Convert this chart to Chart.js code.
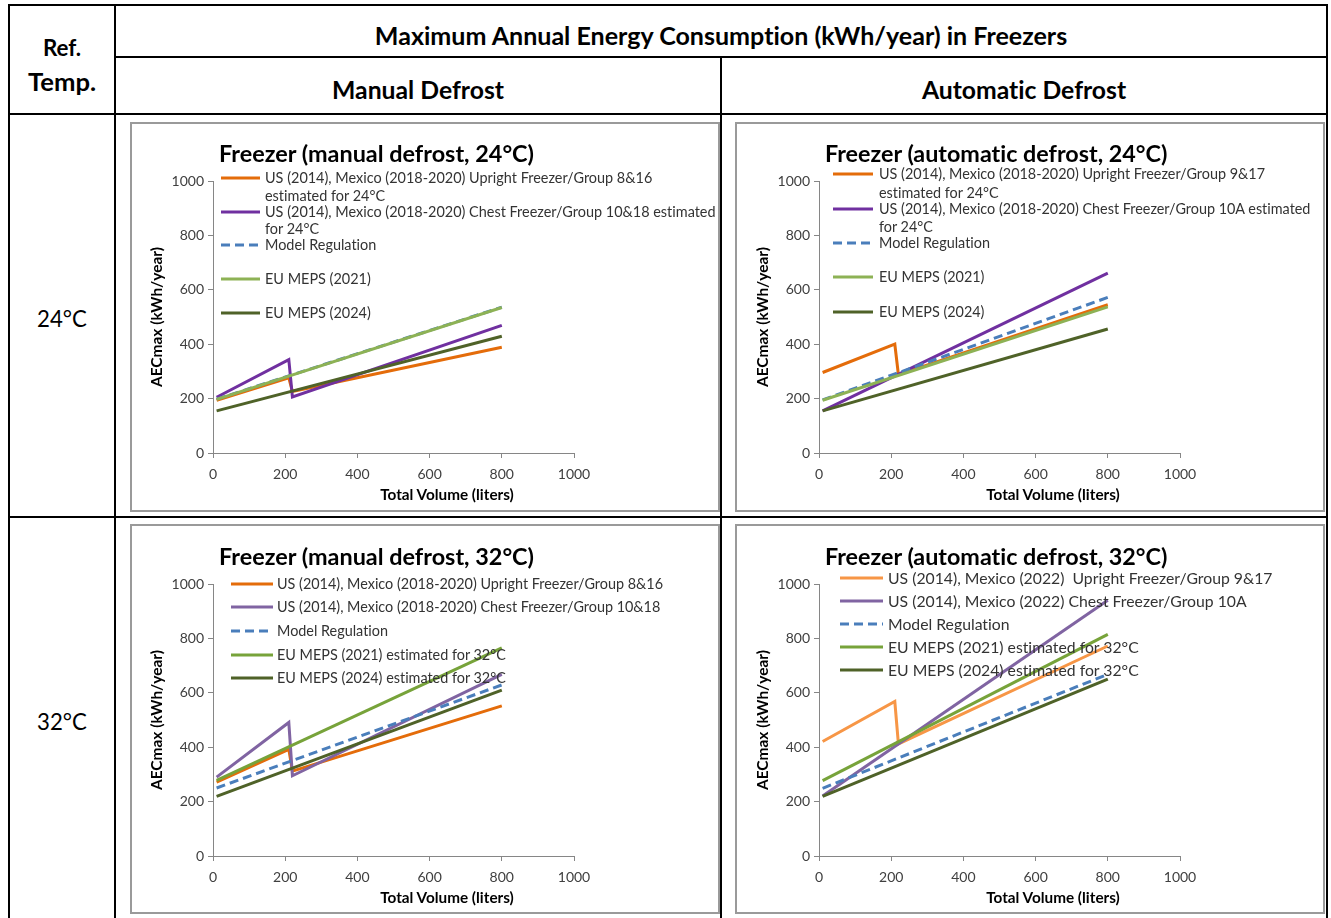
<!DOCTYPE html>
<html><head><meta charset="utf-8">
<script src="https://cdn.jsdelivr.net/npm/chart.js@4.4.1/dist/chart.umd.min.js"></script>
<style>
html,body{margin:0;padding:0;background:#fff;}
#page{position:relative;width:1331px;height:918px;overflow:hidden;font-family:Lato,'Open Sans',sans-serif;color:#000;font-variant-ligatures:none;}
.ln{position:absolute;background:#000;}
.box{position:absolute;border:2px solid #9a9a9a;box-sizing:border-box;pointer-events:none;}
.t{position:absolute;white-space:pre;line-height:1;}
canvas{position:absolute;}
</style></head><body><div id="page"></div>
<script>
// ---------------- DATA ----------------
const volumesStep = [10, 210, 220, 800];
const volumesLine = [10, 800];
const xTickValues = [0, 200, 400, 600, 800, 1000];
const yTickValues = [0, 200, 400, 600, 800, 1000];

const md24Upright = [194, 276, 226, 389];
const md24Chest   = [205, 343, 206, 469];
const md24Model   = [198, 536];
const md24Eu2021  = [197, 535];
const md24Eu2024  = [155, 429];

const ad24Upright = [296, 400, 288, 545];
const ad24Chest   = [155, 661];
const ad24Model   = [195, 572];
const ad24Eu2021  = [194, 537];
const ad24Eu2024  = [155, 456];

const md32Upright = [272, 392, 312, 552];
const md32Chest   = [290, 491, 295, 668];
const md32Model   = [250, 629];
const md32Eu2021  = [278, 765];
const md32Eu2024  = [219, 610];

const ad32Upright = [421, 568, 412, 772];
const ad32Chest   = [221, 940];
const ad32Model   = [249, 668];
const ad32Eu2021  = [277, 815];
const ad32Eu2024  = [219, 650];

const md24Labels = [
  ["US (2014), Mexico (2018-2020) Upright Freezer/Group 8&16", "estimated for 24°C"],
  ["US (2014), Mexico (2018-2020) Chest Freezer/Group 10&18 estimated", "for 24°C"],
  ["Model Regulation"], ["EU MEPS (2021)"], ["EU MEPS (2024)"]];
const ad24Labels = [
  ["US (2014), Mexico (2018-2020) Upright Freezer/Group 9&17", "estimated for 24°C"],
  ["US (2014), Mexico (2018-2020) Chest Freezer/Group 10A estimated", "for 24°C"],
  ["Model Regulation"], ["EU MEPS (2021)"], ["EU MEPS (2024)"]];
const md32Labels = [
  ["US (2014), Mexico (2018-2020) Upright Freezer/Group 8&16"],
  ["US (2014), Mexico (2018-2020) Chest Freezer/Group 10&18"],
  ["Model Regulation"], ["EU MEPS (2021) estimated for 32°C"], ["EU MEPS (2024) estimated for 32°C"]];
const ad32Labels = [
  ["US (2014), Mexico (2022)  Upright Freezer/Group 9&17"],
  ["US (2014), Mexico (2022) Chest Freezer/Group 10A"],
  ["Model Regulation"], ["EU MEPS (2021) estimated for 32°C"], ["EU MEPS (2024) estimated for 32°C"]];

const chartTitles = ["Freezer (manual defrost, 24°C)", "Freezer (automatic defrost, 24°C)",
                     "Freezer (manual defrost, 32°C)", "Freezer (automatic defrost, 32°C)"];
const xAxisTitle = "Total Volume (liters)";
const yAxisTitle = "AECmax (kWh/year)";

// ---------------- LAYOUT ----------------
const page = document.getElementById('page');
function line(x, y, w, h) { const d = document.createElement('div'); d.className = 'ln';
  Object.assign(d.style, {left: x + 'px', top: y + 'px', width: w + 'px', height: h + 'px'}); page.appendChild(d); }
function text(str, x, y, w, opts) {
  opts = opts || {};
  const s = document.createElement('span'); s.className = 't'; s.textContent = str;
  s.style.fontWeight = opts.bold ? '700' : '400';
  if (opts.color) s.style.color = opts.color;
  page.appendChild(s);
  s.style.fontSize = '20px';
  const m = s.offsetWidth;
  const fs = opts.size ? opts.size : 20 * w / m;
  s.style.fontSize = fs + 'px';
  s.style.left = x + 'px'; s.style.top = y + 'px';
  if (opts.rot) s.style.transform = 'translate(-50%,-50%) rotate(-90deg)';
  else if (opts.left) s.style.transform = 'translate(0,-50%)';
  else s.style.transform = 'translate(-50%,-50%)';
  return fs;
}

// table grid
line(8, 4, 1320, 2);
line(115, 56, 1213, 2);
line(8, 113, 1320, 2);
line(8, 516, 1320, 2);
line(8, 4, 2, 914);
line(114, 4, 2, 914);
line(720, 56, 2, 862);
line(1326, 4, 2, 914);

text("Ref.", 62, 48, 38, {bold: true});
text("Temp.", 62, 82, 68, {bold: true});
text("Maximum Annual Energy Consumption (kWh/year) in Freezers", 721, 36, 693, {bold: true});
text("Manual Defrost", 418, 90, 172, {bold: true});
text("Automatic Defrost", 1024, 90, 204, {bold: true});
text("24°C", 62, 319, 50, {});
text("32°C", 62, 722, 50, {});

const charts = [
  { box: [130, 122], plot: [213, 181, 574, 453], series: [md24Upright, md24Chest, md24Model, md24Eu2021, md24Eu2024],
    xs: [volumesStep, volumesStep, volumesLine, volumesLine, volumesLine],
    colors: ['#E46C0A', '#7030A0', '#4A7EBB', '#8DB255', '#4F6228'],
    labels: md24Labels, title: chartTitles[0], titlePos: [219, 154, 315],
    legend: { x1: 221, x2: 260, tx: 265, rows: [[178, 196], [212, 229], [245], [279], [313]], w: 387 },
    xt: [447, 495], yt: [157, 317] },
  { box: [735, 122], plot: [819, 181, 1180, 453], series: [ad24Upright, ad24Chest, ad24Model, ad24Eu2021, ad24Eu2024],
    xs: [volumesStep, volumesLine, volumesLine, volumesLine, volumesLine],
    colors: ['#E46C0A', '#7030A0', '#4A7EBB', '#8DB255', '#4F6228'],
    labels: ad24Labels, title: chartTitles[1], titlePos: [825, 154, 343],
    legend: { x1: 833, x2: 873, tx: 879, rows: [[174, 193], [209, 227], [243], [277], [312]], w: 386 },
    xt: [1053, 495], yt: [763, 317] },
  { box: [130, 524], plot: [213, 584, 574, 856], series: [md32Upright, md32Chest, md32Model, md32Eu2021, md32Eu2024],
    xs: [volumesStep, volumesStep, volumesLine, volumesLine, volumesLine],
    colors: ['#E46C0A', '#8064A2', '#4A7EBB', '#77A33A', '#4F6228'],
    labels: md32Labels, title: chartTitles[2], titlePos: [219, 557, 315],
    legend: { x1: 231, x2: 273, tx: 277, rows: [[584], [607], [631], [655], [678]], w: 386 },
    xt: [447, 898], yt: [157, 720] },
  { box: [735, 524], plot: [819, 584, 1180, 856], series: [ad32Upright, ad32Chest, ad32Model, ad32Eu2021, ad32Eu2024],
    xs: [volumesStep, volumesLine, volumesLine, volumesLine, volumesLine],
    colors: ['#F79646', '#8064A2', '#4A7EBB', '#77A33A', '#4F6228'],
    labels: ad32Labels, title: chartTitles[3], titlePos: [825, 557, 343],
    legend: { x1: 840, x2: 883, tx: 888, rows: [[578], [601], [624], [647], [670]], w: 385 },
    xt: [1053, 898], yt: [763, 720] }
];

const BW = 590, BH = 390;
const axisColor = '#868686';

charts.forEach(c => {
  const [bx, by] = c.box;
  const [pl, pt, pr, pb] = c.plot;
  const cv = document.createElement('canvas');
  cv.width = BW; cv.height = BH;
  cv.style.left = bx + 'px'; cv.style.top = by + 'px';
  cv.style.width = BW + 'px'; cv.style.height = BH + 'px';
  page.appendChild(cv);
  const frame = document.createElement('div'); frame.className = 'box';
  Object.assign(frame.style, {left: bx + 'px', top: by + 'px', width: BW + 'px', height: BH + 'px'});
  page.appendChild(frame);

  const n = c.series.length;
  const datasets = c.series.map((vals, i) => ({
    data: vals.map((v, k) => ({x: c.xs[i][k], y: v})),
    borderColor: c.colors[i],
    borderWidth: 3,
    borderDash: i === 2 ? [9, 5] : [],
    pointRadius: 0, tension: 0, fill: false,
    order: n - i
  }));
  const tickFont = {family: 'Lato', size: 14};
  new Chart(cv, {
    type: 'line',
    data: { datasets },
    options: {
      responsive: false, animation: false, devicePixelRatio: 1,
      layout: { padding: { top: pt - by, right: bx + BW - pr, left: 0, bottom: 0 } },
      plugins: { legend: { display: false }, tooltip: { enabled: false }, title: { display: false } },
      scales: {
        x: { type: 'linear', min: 0, max: 1000,
             afterBuildTicks: s => { s.ticks = xTickValues.map(v => ({value: v})); },
             afterFit: s => { s.height = by + BH - pb; },
             grid: { drawOnChartArea: false, drawTicks: true, tickLength: 5, color: axisColor },
             border: { display: true, color: axisColor, width: 1 },
             ticks: { font: tickFont, color: '#404040', padding: 8, maxRotation: 0, callback: v => String(v) } },
        y: { type: 'linear', min: 0, max: 1000,
             afterBuildTicks: s => { s.ticks = yTickValues.map(v => ({value: v})); },
             afterFit: s => { s.width = pl - bx; },
             grid: { drawOnChartArea: false, drawTicks: true, tickLength: 5, color: axisColor },
             border: { display: true, color: axisColor, width: 1 },
             ticks: { font: tickFont, color: '#404040', padding: 4, callback: v => String(v) } }
      }
    }
  });

  // titles
  text(c.title, c.titlePos[0], c.titlePos[1], c.titlePos[2], {bold: true, left: true});
  text(xAxisTitle, c.xt[0], c.xt[1], 134, {bold: true});
  text(yAxisTitle, c.yt[0], c.yt[1], 140, {bold: true, rot: true});

  // legend
  const L = c.legend;
  const probe = document.createElement('span'); probe.className = 't'; probe.style.fontSize = '20px';
  probe.textContent = c.labels[0][0]; page.appendChild(probe);
  const fs = 20 * L.w / probe.offsetWidth; page.removeChild(probe);
  c.labels.forEach((lines, i) => {
    const ys = L.rows[i];
    const svgNS = 'http://www.w3.org/2000/svg';
    const svg = document.createElementNS(svgNS, 'svg');
    svg.setAttribute('width', L.x2 - L.x1 + 4); svg.setAttribute('height', 8);
    Object.assign(svg.style, {position: 'absolute', left: (L.x1 - 2) + 'px', top: (ys[0] - 4) + 'px'});
    const ln = document.createElementNS(svgNS, 'line');
    ln.setAttribute('x1', 2); ln.setAttribute('x2', L.x2 - L.x1 + 2);
    ln.setAttribute('y1', 4); ln.setAttribute('y2', 4);
    ln.setAttribute('stroke', c.colors[i]); ln.setAttribute('stroke-width', 3);
    if (i === 2) ln.setAttribute('stroke-dasharray', '9 5');
    svg.appendChild(ln); page.appendChild(svg);
    lines.forEach((s, k) => text(s, L.tx, ys[k], 0, {size: fs, left: true, color: '#333333'}));
  });
});
</script></body></html>
